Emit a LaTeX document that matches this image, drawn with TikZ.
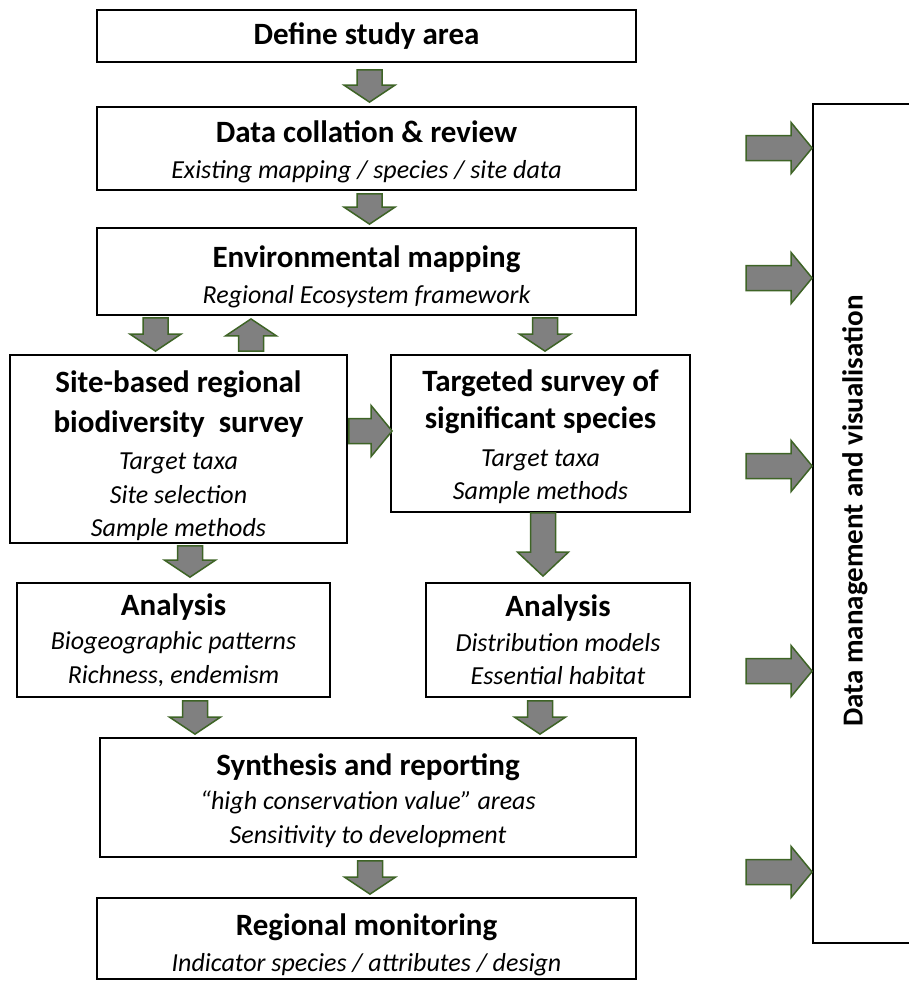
\documentclass[tikz,border=0pt]{standalone}
\usepackage{fontspec}
\setmainfont{Carlito}
\usetikzlibrary{calc}

\definecolor{arrowfill}{RGB}{128,128,128}
\definecolor{arrowedge}{RGB}{62,100,38}

% title and detail text
\newcommand\ttl{\fontsize{31}{40}\selectfont\bfseries\upshape}
\newcommand\itl{\fontsize{26}{33.5}\selectfont\itshape}
% extra room above the first line of a box
\newcommand\topgap[1]{\rule{0pt}{#1}}

% shaft and head half-widths of the block arrows
\newcommand\bashaft{12.5pt}
\newcommand\bahead{25.5pt}

% block arrow from #2 to #3, head length #1
\newcommand\blockarrow[3][18pt]{%
  \coordinate (ba-s) at (#2);
  \coordinate (ba-e) at (#3);
  \coordinate (ba-h) at ($(ba-e)!#1!(ba-s)$);
  \draw[blockarrow]
    ($(ba-s)!\bashaft!90:(ba-e)$) -- ($(ba-h)!\bashaft!90:(ba-e)$)
    -- ($(ba-h)!\bahead!90:(ba-e)$) -- (ba-e)
    -- ($(ba-h)!\bahead!-90:(ba-e)$) -- ($(ba-h)!\bashaft!-90:(ba-e)$)
    -- ($(ba-s)!\bashaft!-90:(ba-e)$) -- cycle;}

\begin{document}
\begin{tikzpicture}[x=1pt,y=-1pt,
  box/.style={draw=black, line width=1.8pt, fill=white, align=center,
    inner sep=0pt, font=\itl},
  blockarrow/.style={draw=arrowedge, fill=arrowfill, line width=1.5pt,
    line join=miter}]
\useasboundingbox (0,0) rectangle (909,988);

% process boxes
\node[box, minimum width=539, minimum height=52] (def) at (366.5,36)
  {\ttl Define study area};
\node[box, minimum width=539, minimum height=83] (dc) at (366.5,148.5)
  {{\ttl\topgap{28pt}Data collation \& review}\\[3pt]Existing mapping / species / site data};
\node[box, minimum width=539, minimum height=87] (env) at (366.5,271.5)
  {{\ttl\topgap{32pt}Environmental mapping}\\[3pt]Regional Ecosystem framework};
\node[box, minimum width=337, minimum height=188] (site) at (178.5,449)
  {{\ttl\topgap{36pt}Site-based regional}\\[6pt]{\ttl biodiversity\ \ survey}\\[4pt]Target taxa\\Site selection\\Sample methods};
\node[box, minimum width=299, minimum height=157] (tgt) at (540.5,433.5)
  {{\ttl\topgap{28pt}Targeted survey of}\\[4pt]{\ttl significant species}\\[4pt]Target taxa\\Sample methods};
\node[box, minimum width=313, minimum height=114] (an1) at (173.5,640)
  {{\ttl Analysis}\\[1pt]Biogeographic patterns\\Richness, endemism};
\node[box, minimum width=264, minimum height=114] (an2) at (558,640)
  {{\ttl Analysis}\\[1pt]Distribution models\\Essential habitat};
\node[box, minimum width=536, minimum height=119] (syn) at (368,797.5)
  {{\ttl\topgap{28pt}Synthesis and reporting}\\[1pt]“high conservation value” areas\\Sensitivity to development};
\node[box, minimum width=539, minimum height=81] (mon) at (366.5,938.5)
  {{\ttl\topgap{34pt}Regional monitoring}\\[2pt]Indicator species / attributes / design};

% data management panel, running on past the right edge
\node[box, minimum width=112, minimum height=839] (dm) at (869,523.5) {};
\node[inner sep=0pt, rotate=90, font=\fontsize{29}{36}\selectfont\bfseries]
  (dmlabel) at (855,511) {Data management and visualisation};

% flow arrows
\blockarrow[17pt]{$(def.south)+(3,7)$}{$(dc.north)+(3,-4)$}
\blockarrow[17pt]{$(dc.south)+(3,3)$}{$(env.north)+(3,-3)$}
\blockarrow[17pt]{$(env.south -| 155.5,0)+(0,2)$}{$(site.north -| 155.5,0)+(0,-3)$}
\blockarrow[17pt]{$(site.north -| 251,0)+(0,-3)$}{$(env.south -| 251,0)+(0,3)$}
\blockarrow[17pt]{$(env.south -| 545,0)+(0,2)$}{$(tgt.north -| 545,0)+(0,-3)$}
\blockarrow[21pt]{$(site.east |- 0,431)+(1,0)$}{$(tgt.west |- 0,431)+(2,0)$}
\blockarrow[17pt]{$(site.south -| 190,0)+(0,2)$}{$(an1.north -| 190,0)+(0,-5)$}
\blockarrow[24pt]{$(tgt.south -| 543,0)$}{$(an2.north -| 543,0)+(0,-6)$}
\blockarrow[17pt]{$(an1.south -| 195,0)+(0,3)$}{$(syn.north -| 195,0)+(0,-3)$}
\blockarrow[17pt]{$(an2.south -| 540,0)+(0,3)$}{$(syn.north -| 540,0)+(0,-3)$}
\blockarrow[17pt]{$(syn.south -| 370,0)+(0,3)$}{$(mon.north -| 370,0)+(0,-3)$}

% feeds into data management
\foreach \yy in {148,278,466,671,872}
  \blockarrow[21pt]{$(dm.west |- 0,\yy)+(-66,0)$}{dm.west |- 0,\yy};
\end{tikzpicture}
\end{document}
